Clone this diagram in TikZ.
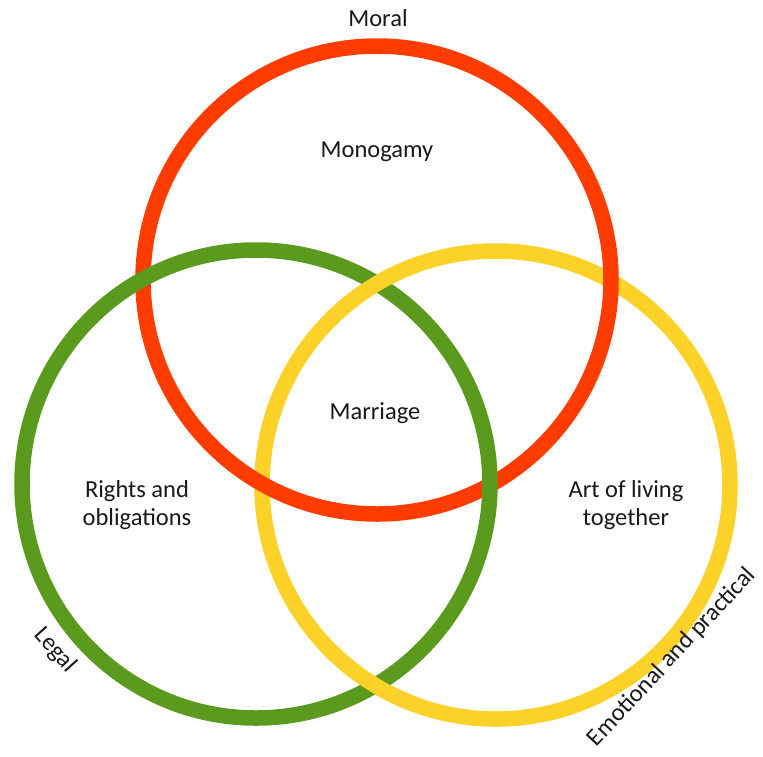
\documentclass[tikz,border=0pt]{standalone}
\usepackage{fontspec}
\setmainfont{Carlito}
\definecolor{rd}{RGB}{255,60,0}
\definecolor{grn}{RGB}{90,155,30}
\definecolor{ylw}{RGB}{252,210,40}
\definecolor{txt}{RGB}{25,25,25}
\begin{document}
\begin{tikzpicture}[x=1pt,y=-1pt,
  ring/.style={line width=15.5pt},
  lbl/.style={font=\fontsize{24.5}{28}\selectfont, align=center, text=txt, inner sep=0pt}]
\useasboundingbox (0,0) rectangle (763,756);
\fill[white] (0,0) rectangle (763,756);
% circles
\draw[ring, ylw] (496,485) circle (234);
\draw[ring, rd]  (377,280) circle (234);
\draw[ring, grn] (256,484) circle (234);
% yellow passes over green at their two crossings
\draw[ring, ylw] ([shift={(225:234)}]496,485) arc (225:250:234);
\draw[ring, ylw] ([shift={(110:234)}]496,485) arc (110:135:234);
% labels
\node[lbl] (moral) at (378,18) {Moral};
\node[lbl] (mono) at (377,152) {Monogamy};
\node[lbl] (marr) at (375,413) {Marriage};
\node[lbl] (rights) at (137,505) {Rights and\\obligations};
\node[lbl] (art) at (626,505) {Art of living\\together};
\node[lbl, rotate=-48] (legal) at (55,650) {Legal};
\node[lbl, rotate=47] (emo) at (672,657) {Emotional and practical};
\end{tikzpicture}
\end{document}
